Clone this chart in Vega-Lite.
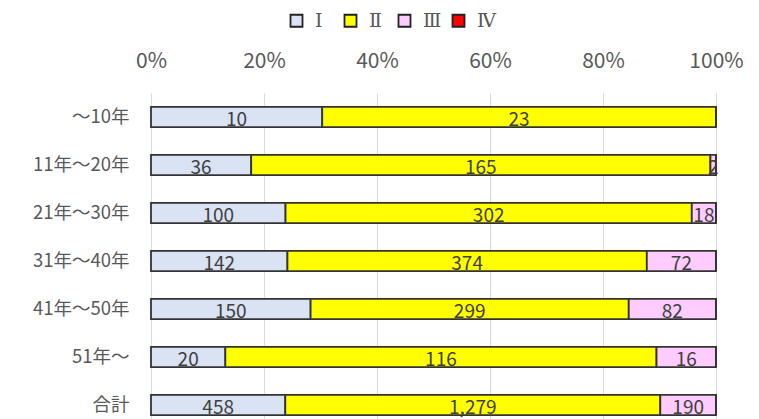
{
  "$schema": "https://vega.github.io/schema/vega-lite/v6.json",
  "autosize": {"type": "none"},
  "width": 565,
  "height": 336,
  "padding": {"left": 151, "top": 93, "right": 43, "bottom": 0},
  "background": "white",
  "config": {
    "font": "Noto Sans CJK JP",
    "view": {"stroke": null}
  },
  "data": {
    "values": [
      {"cat": "～10年", "s": "Ⅰ", "v": 10},
      {"cat": "～10年", "s": "Ⅱ", "v": 23},
      {"cat": "～10年", "s": "Ⅲ", "v": 0},
      {"cat": "～10年", "s": "Ⅳ", "v": 0},
      {"cat": "11年～20年", "s": "Ⅰ", "v": 36},
      {"cat": "11年～20年", "s": "Ⅱ", "v": 165},
      {"cat": "11年～20年", "s": "Ⅲ", "v": 2},
      {"cat": "11年～20年", "s": "Ⅳ", "v": 0},
      {"cat": "21年～30年", "s": "Ⅰ", "v": 100},
      {"cat": "21年～30年", "s": "Ⅱ", "v": 302},
      {"cat": "21年～30年", "s": "Ⅲ", "v": 18},
      {"cat": "21年～30年", "s": "Ⅳ", "v": 0},
      {"cat": "31年～40年", "s": "Ⅰ", "v": 142},
      {"cat": "31年～40年", "s": "Ⅱ", "v": 374},
      {"cat": "31年～40年", "s": "Ⅲ", "v": 72},
      {"cat": "31年～40年", "s": "Ⅳ", "v": 0},
      {"cat": "41年～50年", "s": "Ⅰ", "v": 150},
      {"cat": "41年～50年", "s": "Ⅱ", "v": 299},
      {"cat": "41年～50年", "s": "Ⅲ", "v": 82},
      {"cat": "41年～50年", "s": "Ⅳ", "v": 0},
      {"cat": "51年～", "s": "Ⅰ", "v": 20},
      {"cat": "51年～", "s": "Ⅱ", "v": 116},
      {"cat": "51年～", "s": "Ⅲ", "v": 16},
      {"cat": "51年～", "s": "Ⅳ", "v": 0},
      {"cat": "合計", "s": "Ⅰ", "v": 458},
      {"cat": "合計", "s": "Ⅱ", "v": 1279},
      {"cat": "合計", "s": "Ⅲ", "v": 190},
      {"cat": "合計", "s": "Ⅳ", "v": 0}
    ]
  },
  "encoding": {
    "y": {
      "field": "cat",
      "type": "nominal",
      "sort": ["～10年", "11年～20年", "21年～30年", "31年～40年", "41年～50年", "51年～", "合計"],
      "scale": {"paddingInner": 0.58, "paddingOuter": 0.29},
      "axis": {
        "title": null,
        "domain": false,
        "ticks": false,
        "labelPadding": 22,
        "labelFontSize": 18.5,
        "labelColor": "#595959"
      }
    }
  },
  "layer": [
    {
      "mark": {"type": "bar", "stroke": "#333333", "strokeWidth": 1.8},
      "encoding": {
        "x": {
          "field": "v",
          "type": "quantitative",
          "stack": "normalize",
          "scale": {"domain": [0, 1]},
          "axis": {
            "orient": "top",
            "title": null,
            "format": ".0%",
            "values": [0, 0.2, 0.4, 0.6, 0.8, 1],
            "domain": false,
            "ticks": false,
            "labelFlush": false,
            "labelPadding": 22,
            "labelFontSize": 21,
            "labelColor": "#595959",
            "grid": true,
            "gridColor": "#d9d9d9",
            "gridWidth": 1
          }
        },
        "color": {
          "field": "s",
          "type": "nominal",
          "scale": {
            "domain": ["Ⅰ", "Ⅱ", "Ⅲ", "Ⅳ"],
            "range": ["#dae3f3", "#ffff00", "#ffccff", "#ff0000"]
          },
          "legend": {
            "title": null,
            "orient": "none",
            "direction": "horizontal",
            "columns": 4,
            "gridAlign": "all",
            "legendX": 136,
            "legendY": -82,
            "symbolType": "square",
            "symbolSize": 144,
            "symbolStrokeColor": "#222222",
            "symbolStrokeWidth": 1.8,
            "labelFontSize": 19,
            "labelColor": "#595959",
            "labelFont": "DejaVu Serif",
            "columnPadding": 6,
            "labelOffset": 9
          }
        },
        "order": {"field": "s", "type": "nominal", "sort": "ascending"}
      }
    },
    {
      "transform": [
        {"stack": "v", "groupby": ["cat"], "sort": [{"field": "s", "order": "ascending"}], "offset": "normalize", "as": ["s0", "s1"]},
        {"filter": "datum.v > 0"},
        {"fold": ["s0", "s1"], "as": ["k", "p"]},
        {"aggregate": [{"op": "mean", "field": "p", "as": "mid"}], "groupby": ["cat", "s", "v"]}
      ],
      "mark": {"type": "text", "fontSize": 19, "color": "#404040", "dy": 3},
      "encoding": {
        "x": {"field": "mid", "type": "quantitative"},
        "text": {"field": "v", "type": "quantitative", "format": ","}
      }
    }
  ]
}
